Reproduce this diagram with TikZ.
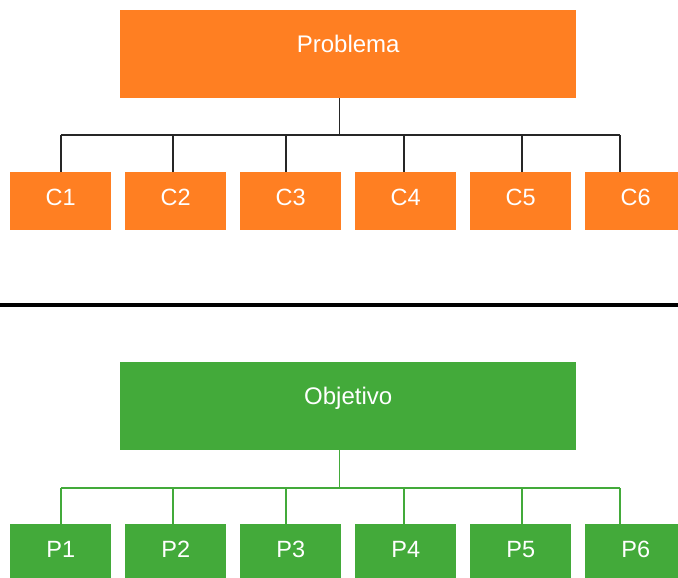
\documentclass[tikz,border=0pt]{standalone}
\usepackage{fontspec}
\setmainfont{Liberation Sans}
\definecolor{boxorange}{HTML}{FF7F22}
\definecolor{boxgreen}{HTML}{43AA3A}
\begin{document}
\begin{tikzpicture}[x=1pt,y=-1pt,
  headbox/.style={rectangle,inner sep=0pt,minimum width=456pt,minimum height=88pt,
    text=white,font=\fontsize{24}{28}\selectfont,anchor=north west},
  leafbox/.style={rectangle,inner sep=0pt,minimum width=101pt,minimum height=58pt,
    text=white,font=\fontsize{23.5}{28}\selectfont,anchor=north west},
  tree/.style={line width=1.4pt}]
\useasboundingbox (0,0) rectangle (678,578);

% --- upper tree: problem and causes ---
\node[headbox,fill=boxorange] (prob) at (120,10) {\raisebox{20pt}{Problema}};
\foreach \i/\x in {1/10,2/125,3/240,4/355,5/470,6/585}
  \node[leafbox,fill=boxorange] (C\i) at (\x,172) {\raisebox{7pt}{C\i}};

\coordinate (pbar) at (339.5,135);
\draw[tree,black!85] (prob.south -| pbar) -- (pbar);
\draw[tree,black!85] (61,135) -- (620,135);
\foreach \i/\x in {1/61,2/173,3/286,4/404,5/522,6/620}{
  \coordinate (cd\i) at (\x,135);
  \draw[tree,black!85] (cd\i) -- (cd\i |- C\i.north);
}

% --- separator ---
\coordinate (sepL) at (0,305);
\coordinate (sepR) at (678,305);
\draw[line width=4pt,black] (sepL) -- (sepR);

% --- lower tree: objective and purposes ---
\node[headbox,fill=boxgreen] (obj) at (120,362) {\raisebox{20pt}{Objetivo}};
\foreach \i/\x in {1/10,2/125,3/240,4/355,5/470,6/585}
  \node[leafbox,fill=boxgreen,minimum height=62pt] (P\i) at (\x,524) {\raisebox{11pt}{P\i}};

\coordinate (obar) at (339.5,488);
\draw[tree,boxgreen] (obj.south -| obar) -- (obar);
\draw[tree,boxgreen] (61,488) -- (620,488);
\foreach \i/\x in {1/61,2/173,3/286,4/404,5/522,6/620}{
  \coordinate (pd\i) at (\x,488);
  \draw[tree,boxgreen] (pd\i) -- (pd\i |- P\i.north);
}
\end{tikzpicture}
\end{document}
